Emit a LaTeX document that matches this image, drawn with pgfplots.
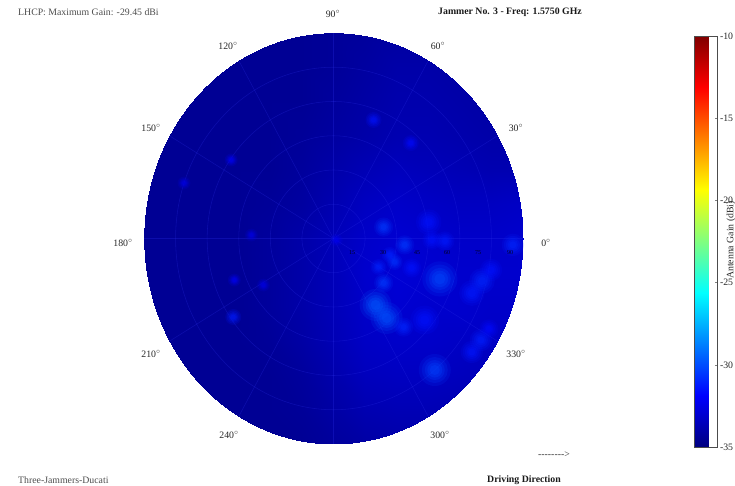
\documentclass[border=0pt]{standalone}
\usepackage{pgfplots}
\pgfplotsset{compat=1.18}
\usepackage{pgfplotstable}
\usepackage{fontspec}
\setmainfont{Liberation Serif}

\newcommand\lbl{\fontsize{9.8}{11}\selectfont}
\newcommand\rlbl{\fontsize{6}{7}\selectfont}
\tikzset{gridl/.style={draw={rgb,255:red,45;green,50;blue,235}, draw opacity=0.28, line width=0.55pt}}
% one translucent layer of the soft hot spots
\pgfplotsset{
  blob layer/.style 2 args={scatter, only marks, mark=*, point meta=\thisrow{v},
    visualization depends on={\thisrow{r}\as\rad},
    scatter/use mapped color={draw=mapped color, draw opacity=0, line width=0pt,
      fill=mapped color, fill opacity=#2, /tikz/mark size=#1*\rad}},
}

% local gain hot spots: position, gain (dBi), radius (pt)
\pgfplotstableread{
x y v r
50.5 -17.7 -30.0 11
20.0 -29.1 -29.6 10
25.2 -34.8 -29.8 10
23.8 -19.5 -30.4 6
33.3 -38.8 -30.9 6
43.3 -35.7 -31.4 9
48.1 -57.6 -30.2 10
65.7 -23.9 -31.2 8
70.5 -18.6 -30.9 8
74.8 -13.8 -31.4 7
65.7 -49.7 -31.3 7
70.0 -44.5 -31.1 7
73.8 -39.6 -31.6 6
85.2 -2.8 -30.9 7
23.8 5.0 -30.4 6
45.2 7.2 -31.4 8
33.8 -2.8 -30.4 6
26.7 -7.2 -31.0 5
29.0 -10.3 -30.6 5
21.4 -12.5 -31.0 5
37.1 -12.9 -31.4 6
46.7 -0.7 -31.4 6
52.9 -1.1 -31.2 6
19.0 51.9 -31.4 5
36.7 41.8 -31.6 5
-47.1 -18.2 -32.0 4
-47.6 -34.4 -31.2 5
-48.6 34.4 -32.0 4
-33.3 -20.4 -32.4 4
-71.0 24.3 -32.4 4
-39.0 1.5 -32.4 4
1.4 -0.7 -32.2 4
}\blobs

\begin{document}
\begin{tikzpicture}[x=1pt,y=1pt]
\useasboundingbox (0,0) rectangle (735,486);
\begin{axis}[
  at={(333.5pt,247.5pt)}, anchor=center,
  scale only axis, width=379pt, height=411pt,
  view={0}{90},
  xmin=-90, xmax=90, ymin=-90, ymax=90,
  hide axis,
  colormap/jet,
  point meta min=-35, point meta max=-10,
  colorbar,
  colorbar style={
    at={(parent axis.north east)}, anchor=north west,
    xshift=163pt, yshift=-3pt,
    scale only axis, width=23pt, height=411pt,
    ytick={-35,-30,-25,-20,-15,-10},
    ytick pos=right,
    tick align=inside,
    major tick length=3pt,
    yticklabel style={font=\lbl, text=black!85, xshift=-1pt},
    /pgf/number format/assume math mode=true,
    axis line style={black!70, line width=0.4pt},
  },
]
\clip (axis cs:0,0,-35) ellipse [x radius=189.5pt, y radius=205.5pt];
\addplot3[surf, shader=interp, mesh/rows=13, mesh/cols=13] table[row sep=\\] {
x y z\\
-90 -90 -34.5\\ -75 -90 -34.5\\ -60 -90 -34.5\\ -45 -90 -34.5\\ -30 -90 -34.5\\ -15 -90 -34.5\\ 0 -90 -34.3\\ 15 -90 -34.1\\ 30 -90 -34.0\\ 45 -90 -34.0\\ 60 -90 -34.1\\ 75 -90 -34.2\\ 90 -90 -34.2\\
-90 -75 -34.5\\ -75 -75 -34.5\\ -60 -75 -34.5\\ -45 -75 -34.5\\ -30 -75 -34.5\\ -15 -75 -34.4\\ 0 -75 -34.1\\ 15 -75 -33.8\\ 30 -75 -33.7\\ 45 -75 -33.7\\ 60 -75 -33.8\\ 75 -75 -33.9\\ 90 -75 -34.0\\
-90 -60 -34.5\\ -75 -60 -34.5\\ -60 -60 -34.5\\ -45 -60 -34.5\\ -30 -60 -34.5\\ -15 -60 -34.3\\ 0 -60 -33.9\\ 15 -60 -33.5\\ 30 -60 -33.4\\ 45 -60 -33.4\\ 60 -60 -33.5\\ 75 -60 -33.6\\ 90 -60 -33.6\\
-90 -45 -34.5\\ -75 -45 -34.5\\ -60 -45 -34.5\\ -45 -45 -34.5\\ -30 -45 -34.4\\ -15 -45 -34.1\\ 0 -45 -33.7\\ 15 -45 -33.3\\ 30 -45 -33.2\\ 45 -45 -33.2\\ 60 -45 -33.3\\ 75 -45 -33.3\\ 90 -45 -33.3\\
-90 -30 -34.5\\ -75 -30 -34.5\\ -60 -30 -34.5\\ -45 -30 -34.5\\ -30 -30 -34.3\\ -15 -30 -34.0\\ 0 -30 -33.6\\ 15 -30 -33.2\\ 30 -30 -33.0\\ 45 -30 -33.1\\ 60 -30 -33.1\\ 75 -30 -33.2\\ 90 -30 -33.2\\
-90 -15 -34.5\\ -75 -15 -34.5\\ -60 -15 -34.5\\ -45 -15 -34.5\\ -30 -15 -34.3\\ -15 -15 -34.0\\ 0 -15 -33.6\\ 15 -15 -33.1\\ 30 -15 -32.9\\ 45 -15 -33.0\\ 60 -15 -33.1\\ 75 -15 -33.1\\ 90 -15 -33.1\\
-90 0 -34.5\\ -75 0 -34.5\\ -60 0 -34.5\\ -45 0 -34.5\\ -30 0 -34.3\\ -15 0 -34.0\\ 0 0 -33.6\\ 15 0 -33.2\\ 30 0 -33.0\\ 45 0 -33.1\\ 60 0 -33.2\\ 75 0 -33.2\\ 90 0 -33.1\\
-90 15 -34.5\\ -75 15 -34.5\\ -60 15 -34.5\\ -45 15 -34.5\\ -30 15 -34.4\\ -15 15 -34.2\\ 0 15 -33.8\\ 15 15 -33.4\\ 30 15 -33.2\\ 45 15 -33.3\\ 60 15 -33.4\\ 75 15 -33.4\\ 90 15 -33.3\\
-90 30 -34.5\\ -75 30 -34.5\\ -60 30 -34.5\\ -45 30 -34.5\\ -30 30 -34.5\\ -15 30 -34.3\\ 0 30 -34.0\\ 15 30 -33.7\\ 30 30 -33.5\\ 45 30 -33.6\\ 60 30 -33.7\\ 75 30 -33.8\\ 90 30 -33.8\\
-90 45 -34.5\\ -75 45 -34.5\\ -60 45 -34.5\\ -45 45 -34.5\\ -30 45 -34.5\\ -15 45 -34.4\\ 0 45 -34.2\\ 15 45 -34.0\\ 30 45 -33.8\\ 45 45 -33.8\\ 60 45 -33.9\\ 75 45 -34.0\\ 90 45 -34.0\\
-90 60 -34.5\\ -75 60 -34.5\\ -60 60 -34.5\\ -45 60 -34.5\\ -30 60 -34.5\\ -15 60 -34.5\\ 0 60 -34.3\\ 15 60 -34.1\\ 30 60 -33.9\\ 45 60 -33.9\\ 60 60 -34.0\\ 75 60 -34.1\\ 90 60 -34.1\\
-90 75 -34.5\\ -75 75 -34.5\\ -60 75 -34.5\\ -45 75 -34.5\\ -30 75 -34.5\\ -15 75 -34.5\\ 0 75 -34.4\\ 15 75 -34.2\\ 30 75 -34.0\\ 45 75 -34.0\\ 60 75 -34.1\\ 75 75 -34.1\\ 90 75 -34.2\\
-90 90 -34.5\\ -75 90 -34.5\\ -60 90 -34.5\\ -45 90 -34.5\\ -30 90 -34.5\\ -15 90 -34.5\\ 0 90 -34.4\\ 15 90 -34.3\\ 30 90 -34.2\\ 45 90 -34.2\\ 60 90 -34.2\\ 75 90 -34.2\\ 90 90 -34.2\\
};
% soft hot spots, stacked translucent discs
\addplot3[blob layer={1.6}{0.14}] table[x=x, y=y, z=v] {\blobs};
\addplot3[blob layer={1.3}{0.18}] table[x=x, y=y, z=v] {\blobs};
\addplot3[blob layer={1.0}{0.22}] table[x=x, y=y, z=v] {\blobs};
\addplot3[blob layer={0.75}{0.26}] table[x=x, y=y, z=v] {\blobs};
\addplot3[blob layer={0.5}{0.3}] table[x=x, y=y, z=v] {\blobs};
% polar grid
\draw[gridl] (axis cs:0,0,-35) ellipse [x radius=31.58pt, y radius=34.25pt];
\draw[gridl] (axis cs:0,0,-35) ellipse [x radius=63.17pt, y radius=68.5pt];
\draw[gridl] (axis cs:0,0,-35) ellipse [x radius=94.75pt, y radius=102.75pt];
\draw[gridl] (axis cs:0,0,-35) ellipse [x radius=126.33pt, y radius=137pt];
\draw[gridl] (axis cs:0,0,-35) ellipse [x radius=157.92pt, y radius=171.25pt];
\draw[gridl] (axis cs:-90,0,-35) -- (axis cs:90,0,-35);
\draw[gridl] (axis cs:0,-90,-35) -- (axis cs:0,90,-35);
\draw[gridl] (axis cs:-77.94,-45,-35) -- (axis cs:77.94,45,-35);
\draw[gridl] (axis cs:-45,-77.94,-35) -- (axis cs:45,77.94,-35);
\draw[gridl] (axis cs:-45,77.94,-35) -- (axis cs:45,-77.94,-35);
\draw[gridl] (axis cs:-77.94,45,-35) -- (axis cs:77.94,-45,-35);
\end{axis}

% radial labels along the 0 degree line
\begin{scope}[every node/.style={font=\rlbl, text=black, opacity=0.85}]
\node at (352,233) {15};
\node at (383,233) {30};
\node at (417,233) {45};
\node at (447,233) {60};
\node at (478,233) {75};
\node at (510,233) {90};
\end{scope}

% azimuth labels
\begin{scope}[every node/.style={font=\lbl, text=black!85, inner sep=0pt}]
\node at (333,472) {90$^{\circ}$};
\node at (228,440) {120$^{\circ}$};
\node at (438,440) {60$^{\circ}$};
\node at (151,358) {150$^{\circ}$};
\node at (516,358) {30$^{\circ}$};
\node at (123,243) {180$^{\circ}$};
\node at (546,243) {0$^{\circ}$};
\node at (151,132) {210$^{\circ}$};
\node at (516,132) {330$^{\circ}$};
\node at (229,51) {240$^{\circ}$};
\node at (440,51) {300$^{\circ}$};
\end{scope}

% captions
\node[anchor=west, font=\lbl, text=black!70, inner sep=0pt] at (18,474) {LHCP: Maximum Gain: -29.45 dBi};
\node[anchor=west, font=\lbl\bfseries, text=black!90, inner sep=0pt] at (438,474) {Jammer No. 3 - Freq: 1.5750 GHz};
\node[anchor=west, font=\lbl, text=black!70, inner sep=0pt] at (18,6) {Three-Jammers-Ducati};
\node[font=\lbl\bfseries, text=black!90, inner sep=0pt] at (524,6) {Driving Direction};
\node[font=\lbl, text=black!80, inner sep=0pt] at (554,31) {-{}-{}-{}-{}-{}-{}-{}-{}>};
\node[rotate=90, font=\lbl, text=black!85, inner sep=0pt] at (731,246) {Antenna Gain (dBi)};
\end{tikzpicture}
\end{document}
